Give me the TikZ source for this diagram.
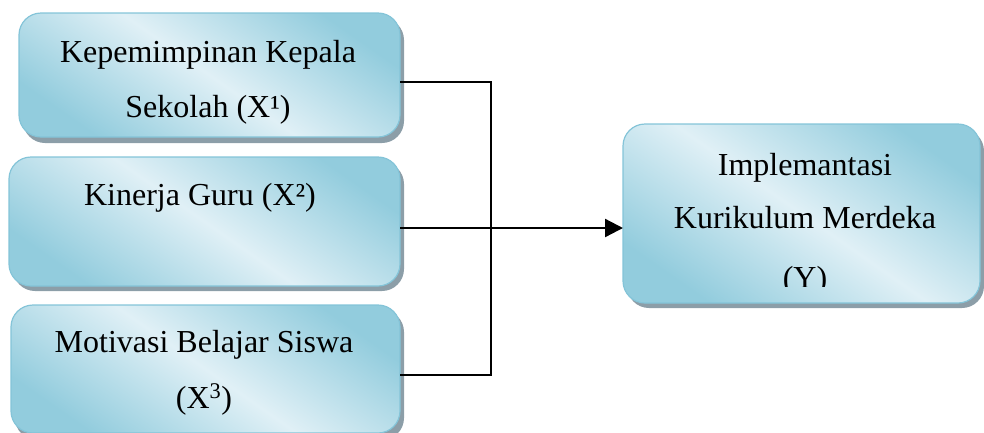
\documentclass[tikz,border=0pt]{standalone}
\usepackage{fontspec}
\setmainfont{Liberation Serif}
\usetikzlibrary{arrows.meta,calc}
\definecolor{boxdark}{RGB}{146,204,221}
\definecolor{boxlight}{RGB}{224,240,246}
\definecolor{boxedge}{RGB}{132,196,216}
\definecolor{boxshadow}{RGB}{140,158,168}
\tikzset{
  varbox/.style={draw=boxedge, line width=1.2pt, rounded corners=22pt,
    top color=boxdark, bottom color=boxdark, middle color=boxlight, shading angle=-35},
  shadowbox/.style={fill=boxshadow, draw=none, rounded corners=22pt},
  lbl/.style={font=\fontsize{32}{38}\selectfont, anchor=base, inner sep=0pt},
  conn/.style={line width=2.3pt, black},
}
\begin{document}
\begin{tikzpicture}[x=1pt,y=-1pt]
\useasboundingbox (0,0) rectangle (984,432);
% shadows
\fill[shadowbox] (23,18) rectangle (404,143);
\fill[shadowbox] (13,162) rectangle (404,291);
\fill[shadowbox] (15,310) rectangle (404,440);
\fill[shadowbox] (627,129) rectangle (984,308);
% boxes
\path[varbox] (19,13) rectangle (400,137);
\node[inner sep=0pt] (b1) at (209.5,75) {};
\path[varbox] (9,157) rectangle (400,286);
\node[inner sep=0pt] (b2) at (204.5,221.5) {};
\path[varbox] (11,305) rectangle (400,433);
\node[inner sep=0pt] (b3) at (205.5,369) {};
\path[varbox] (623,124) rectangle (980,303);
\node[inner sep=0pt] (y) at (801.5,213.5) {};
% texts
\node[lbl] (t1a) at (208,62) {Kepemimpinan Kepala};
\node[lbl] (t1b) at (208,117) {Sekolah (X¹)};
\node[lbl] (t2) at (200,205) {Kinerja Guru (X²)};
\node[lbl] (t3a) at (204,352) {Motivasi Belajar Siswa};
\node[lbl] (t3b) at (204,408) {(X\textsuperscript{3})};
\node[lbl] (ty1) at (805,175) {Implemantasi};
\node[lbl] (ty2) at (805,228) {Kurikulum Merdeka};
\begin{scope}
\clip (623,240) rectangle (980,286);
\node[lbl] (ty3) at (805,288) {(Y)};
\end{scope}
% connectors
\coordinate (o1) at (400,82);
\coordinate (o2) at (400,228);
\coordinate (o3) at (400,375);
\coordinate (j1) at (491,82);
\coordinate (j2) at (491,228);
\coordinate (j3) at (491,375);
\coordinate (yin) at (623,228);
\draw[conn] (o1) -- (j1) -- (j3) -- (o3);
\draw[conn] (o2) -- (j2);
\draw[conn, -{Triangle[length=18pt,width=18pt]}] (j2) -- (yin);
\end{tikzpicture}
\end{document}
